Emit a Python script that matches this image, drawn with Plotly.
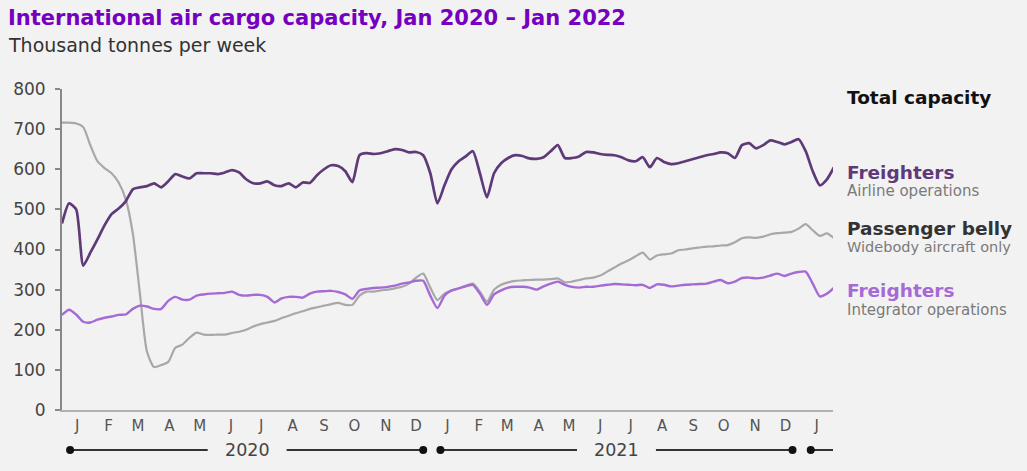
import pandas as pd
import plotly.graph_objects as go

# ---------------- data ----------------
weeks = pd.date_range(start="2020-01-01", periods=110, freq="7D")

freighters_airline = [
    465, 515, 500, 360, 392, 425, 460, 488, 502, 520,
    550, 555, 558, 565, 555, 570, 588, 582, 577, 590,
    590, 590, 588, 592, 598, 592, 575, 565, 565, 570,
    560, 558, 565, 555, 567, 566, 585, 600, 610, 608,
    595, 568, 635, 640, 638, 640, 645, 650, 648, 642,
    643, 635, 590, 515, 560, 600, 620, 632, 645, 590,
    530, 590, 615, 628, 635, 633, 627, 626, 630, 645,
    660, 628, 628, 632, 643, 642, 638, 636, 635, 630,
    622, 620, 630, 605, 628, 618, 613, 615, 620, 625,
    630, 635, 638, 642, 640, 628, 660, 665, 652, 660,
    672, 668, 662, 668, 675, 645, 595, 560, 575, 605,
]

passenger_belly = [
    716, 716, 714, 705, 660, 620, 603, 590, 567, 525,
    440, 290, 145, 107, 112, 120, 155, 163, 180, 193,
    188, 187, 188, 188, 192, 195, 200, 208, 214, 218,
    222, 229, 235, 241, 246, 252, 256, 260, 264, 267,
    262, 262, 285, 295, 295, 298, 300, 303, 307, 315,
    330, 340, 305, 274, 290, 298, 303, 310, 315, 295,
    270, 300, 312, 318, 322, 323, 324, 325, 325, 326,
    328, 318, 320, 324, 328, 330, 335, 345, 355, 365,
    373, 383, 392, 375, 385, 388, 390, 398, 400, 403,
    405, 407, 408, 410, 411, 418, 428, 430, 429, 432,
    438, 441, 442, 444, 452, 463, 448, 434, 440, 428,
]

freighters_integrator = [
    237, 250, 238, 220, 218, 225, 230, 233, 237, 238,
    252, 260, 258, 252, 252, 272, 282, 275, 275, 285,
    288, 290, 291, 292, 295, 287, 285, 287, 287, 282,
    268, 278, 282, 282, 280, 290, 295, 296, 297, 294,
    288, 277, 298, 302, 304, 305, 307, 310, 315, 318,
    322, 322, 285, 254, 285, 298, 303, 308, 312, 290,
    262, 288, 298, 305, 307, 307, 305, 300, 308, 315,
    320, 312, 307, 305, 307, 307, 310, 312, 314, 313,
    312, 311, 312, 304, 313, 312, 308, 310, 312, 313,
    314, 315, 320, 324, 316, 320, 329, 330, 328, 330,
    335, 340, 334, 340, 344, 345, 315, 283, 290, 305,
]

month_letters = ["J", "F", "M", "A", "M", "J", "J", "A", "S", "O", "N", "D"] * 2 + ["J"]
month_mid = pd.date_range(start="2020-01-01", periods=25, freq="MS") + pd.Timedelta(days=15)
yticks = [0, 100, 200, 300, 400, 500, 600, 700, 800]

# year bracket rows: (label, start, text_left_end, text_right_start, end)
year_rows = [
    ("2020", "2020-01-09", "2020-05-24", "2020-08-10", "2020-12-23"),
    ("2021", "2021-01-09", "2021-05-24", "2021-08-10", "2021-12-23"),
]
partial_year = ("2022-01-10", "2022-02-01")

# ---------------- colours ----------------
C_AIR = "#5f3a78"
C_BELLY = "#a8a8a8"
C_INT = "#a56ad4"
BG = "#f2f2f2"
FONT = "DejaVu Sans"

fig = go.Figure()
fig.add_trace(go.Scatter(x=weeks, y=passenger_belly, mode="lines",
                         line=dict(color=C_BELLY, width=2.2, shape="spline", smoothing=0.6),
                         hoverinfo="skip", showlegend=False))
fig.add_trace(go.Scatter(x=weeks, y=freighters_integrator, mode="lines",
                         line=dict(color=C_INT, width=2.4, shape="spline", smoothing=0.6),
                         hoverinfo="skip", showlegend=False))
fig.add_trace(go.Scatter(x=weeks, y=freighters_airline, mode="lines",
                         line=dict(color=C_AIR, width=2.7, shape="spline", smoothing=0.6),
                         hoverinfo="skip", showlegend=False))

fig.update_layout(
    width=1027, height=471,
    margin=dict(l=62, r=194, t=89, b=61),
    paper_bgcolor=BG, plot_bgcolor=BG,
    font=dict(family=FONT, color="#444444"),
    showlegend=False,
)

fig.update_xaxes(
    type="date",
    range=["2020-01-01", "2022-02-01"],
    tickmode="array", tickvals=month_mid, ticktext=month_letters,
    ticks="", showgrid=False, zeroline=False,
    showline=True, linecolor="#b0b0b0", linewidth=2,
    tickfont=dict(size=15, color="#555555", family=FONT),
    ticklabelstandoff=1,
)
fig.update_yaxes(
    range=[0, 800],
    tickmode="array", tickvals=yticks,
    ticks="outside", ticklen=5, tickcolor="#888888", tickwidth=1.5,
    showgrid=False, zeroline=False,
    showline=True, linecolor="#888888", linewidth=2,
    tickfont=dict(size=17, color="#444444", family=FONT),
    ticklabelstandoff=6,
)

PW, PH = 771, 321


def ypx(py):
    return (410 - py) / PH


# Title and subtitle
fig.add_annotation(text="<b>International air cargo capacity, Jan 2020 – Jan 2022</b>",
                   xref="paper", yref="paper", x=-(62 - 6) / PW, y=ypx(18),
                   xanchor="left", yanchor="middle", showarrow=False,
                   font=dict(size=21, color="#7500c0", family=FONT))
fig.add_annotation(text="Thousand tonnes per week",
                   xref="paper", yref="paper", x=-(62 - 6) / PW, y=ypx(45),
                   xanchor="left", yanchor="middle", showarrow=False,
                   font=dict(size=19, color="#333333", family=FONT))

# Right-hand labels
lx = (845 - 62) / PW
labels = [
    ("<b>Total capacity</b>", 97, 18.5, "#111111"),
    ("<b>Freighters</b>", 172, 18.5, C_AIR),
    ("Airline operations", 191, 15, "#7a7a7a"),
    ("<b>Passenger belly</b>", 228, 18.5, "#333333"),
    ("Widebody aircraft only", 247, 14.5, "#7a7a7a"),
    ("<b>Freighters</b>", 290, 18.5, C_INT),
    ("Integrator operations", 310, 15, "#7a7a7a"),
]
for txt, py, sz, col in labels:
    fig.add_annotation(text=txt, xref="paper", yref="paper", x=lx, y=ypx(py),
                       xanchor="left", yanchor="middle", showarrow=False,
                       font=dict(size=sz, color=col, family=FONT))

# Year bracket row
yr_y = ypx(450)


def add_dot(d):
    fig.add_shape(type="circle", xref="x", yref="paper",
                  xsizemode="pixel", ysizemode="pixel",
                  xanchor=d, yanchor=yr_y, x0=-4, x1=4, y0=-4, y1=4,
                  fillcolor="#111111", line=dict(width=0))


for label, s, tl, tr, e in year_rows:
    fig.add_shape(type="line", xref="x", yref="paper", x0=s, x1=tl, y0=yr_y, y1=yr_y,
                  line=dict(color="#333333", width=2))
    fig.add_shape(type="line", xref="x", yref="paper", x0=tr, x1=e, y0=yr_y, y1=yr_y,
                  line=dict(color="#333333", width=2))
    mid = pd.Timestamp(tl) + (pd.Timestamp(tr) - pd.Timestamp(tl)) / 2
    fig.add_annotation(text=label, xref="x", yref="paper", x=mid, y=yr_y,
                       xanchor="center", yanchor="middle", showarrow=False,
                       font=dict(size=17.5, color="#444444", family=FONT))
    add_dot(s)
    add_dot(e)

fig.add_shape(type="line", xref="x", yref="paper", x0=partial_year[0], x1=partial_year[1],
              y0=yr_y, y1=yr_y, line=dict(color="#333333", width=2))
add_dot(partial_year[0])

fig.write_html("out.html")
